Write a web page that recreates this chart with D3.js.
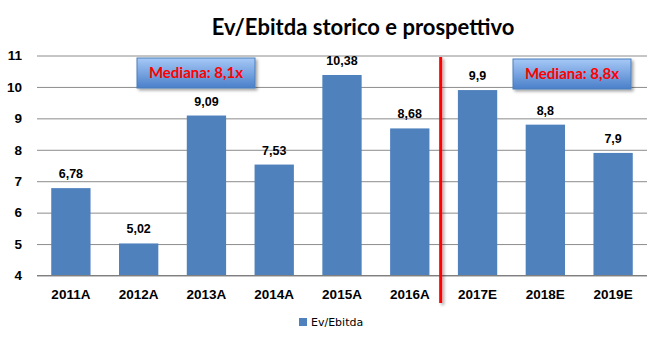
<!DOCTYPE html>
<html>
<head>
<meta charset="utf-8">
<script src="https://cdn.jsdelivr.net/npm/d3@7"></script>
<style>
  html, body { margin: 0; padding: 0; background: #fff; }
  svg { display: block; }
</style>
</head>
<body>
<svg id="chart" width="662" height="346"></svg>
<script>
// Chart data
const categories = ["2011A", "2012A", "2013A", "2014A", "2015A", "2016A", "2017E", "2018E", "2019E"];
const evEbitda = [6.78, 5.02, 9.09, 7.53, 10.38, 8.68, 9.9, 8.8, 7.9];
const valueLabels = ["6,78", "5,02", "9,09", "7,53", "10,38", "8,68", "9,9", "8,8", "7,9"];
const yTicks = [4, 5, 6, 7, 8, 9, 10, 11];
const medianLabels = ["Mediana: 8,1x", "Mediana: 8,8x"];
const seriesName = "Ev/Ebitda";

const svg = d3.select("#chart");
const margin = { left: 37, right: 15 };
const W = 662;

const x = d3.scaleBand().domain(categories).range([margin.left, W - margin.right]).paddingInner(0.42).paddingOuter(0.21);
const y = d3.scaleLinear().domain([4, 11]).range([275.5, 55.5]);

const defs = svg.append("defs");
const grad = defs.append("linearGradient").attr("id", "boxGrad").attr("x1", 0).attr("x2", 0).attr("y1", 0).attr("y2", 1);
grad.append("stop").attr("offset", "0%").attr("stop-color", "#a6c9f7");
grad.append("stop").attr("offset", "100%").attr("stop-color", "#4a7fca");
const shadow = defs.append("filter").attr("id", "shadow")
  .attr("filterUnits", "userSpaceOnUse").attr("x", 0).attr("y", 0).attr("width", 662).attr("height", 346);
shadow.append("feDropShadow").attr("dx", 2).attr("dy", 2).attr("stdDeviation", 1.5).attr("flood-color", "#000").attr("flood-opacity", 0.35);

// Title
svg.append("text")
  .attr("x", 363).attr("y", 35)
  .attr("text-anchor", "middle")
  .attr("font-family", "Lato, 'Open Sans', sans-serif")
  .attr("font-weight", "bold")
  .attr("font-size", 22)
  .attr("fill", "#000")
  .text("Ev/Ebitda storico e prospettivo");

// Gridlines and y labels
const yAxis = d3.axisLeft(y).tickValues(yTicks).tickSize(-(W - margin.left - margin.right)).tickFormat(d3.format("d"));
const gy = svg.append("g").attr("transform", `translate(${margin.left},0)`).call(yAxis);
gy.select(".domain").remove();
gy.selectAll(".tick line").attr("stroke", "#8c8c8c").attr("stroke-width", 1);
gy.selectAll(".tick text")
  .attr("x", -15)
  .attr("font-family", "'Liberation Sans', Arial, sans-serif")
  .attr("font-weight", "bold")
  .attr("font-size", 13.5)
  .attr("fill", "#000");

// Bars
svg.append("g").selectAll("rect").data(evEbitda).join("rect")
  .attr("x", (d, i) => x(categories[i]))
  .attr("y", d => y(d))
  .attr("width", x.bandwidth())
  .attr("height", d => y(4) - y(d))
  .attr("fill", "#4f81bd");

// Value labels
svg.append("g").selectAll("text").data(evEbitda).join("text")
  .attr("x", (d, i) => x(categories[i]) + x.bandwidth() / 2)
  .attr("y", d => y(d) - 10)
  .attr("text-anchor", "middle")
  .attr("font-family", "'Liberation Sans', Arial, sans-serif")
  .attr("font-weight", "bold")
  .attr("font-size", 12.5)
  .attr("fill", "#000")
  .text((d, i) => valueLabels[i]);

// X axis
const xAxis = d3.axisBottom(x).tickSize(0).tickPadding(14);
const gx = svg.append("g").attr("transform", `translate(0,${y(4) - 0.5})`).call(xAxis);
gx.select(".domain").attr("d", `M${margin.left},0.5H${W - margin.right}`).attr("stroke", "#7f7f7f");
gx.selectAll(".tick text")
  .attr("font-family", "'Liberation Sans', Arial, sans-serif")
  .attr("font-weight", "bold")
  .attr("font-size", 13.5)
  .attr("fill", "#000");

// Divider between actual and estimated years
const splitX = x(categories[6]) - x.step() * x.paddingInner() / 2 - 3;
svg.append("rect")
  .attr("x", splitX - 1.5).attr("y", 57)
  .attr("width", 3).attr("height", 246)
  .attr("fill", "#ff0000")
  .attr("filter", "url(#shadow)");

// Median boxes
const boxes = [
  { cx: 196, cy: 73, label: medianLabels[0] },
  { cx: 572, cy: 74, label: medianLabels[1] }
];
const bg = svg.append("g").selectAll("g").data(boxes).join("g");
bg.append("rect")
  .attr("x", d => d.cx - 59).attr("y", d => d.cy - 15)
  .attr("width", 118).attr("height", 30)
  .attr("fill", "url(#boxGrad)")
  .attr("stroke", "#4a7ebb").attr("stroke-width", 1)
  .attr("filter", "url(#shadow)");
bg.append("text")
  .attr("x", d => d.cx).attr("y", d => d.cy + 5)
  .attr("text-anchor", "middle")
  .attr("font-family", "Lato, 'Open Sans', sans-serif")
  .attr("font-weight", "bold")
  .attr("font-size", 15)
  .attr("fill", "#ff0000")
  .text(d => d.label);

// Legend
const lg = svg.append("g").attr("transform", "translate(299,318)");
lg.append("rect").attr("width", 8).attr("height", 8).attr("fill", "#4f81bd");
lg.append("text")
  .attr("x", 12).attr("y", 8)
  .attr("font-family", "'DejaVu Sans', sans-serif")
  .attr("font-size", 11)
  .attr("fill", "#000")
  .text(seriesName);
</script>
</body>
</html>
